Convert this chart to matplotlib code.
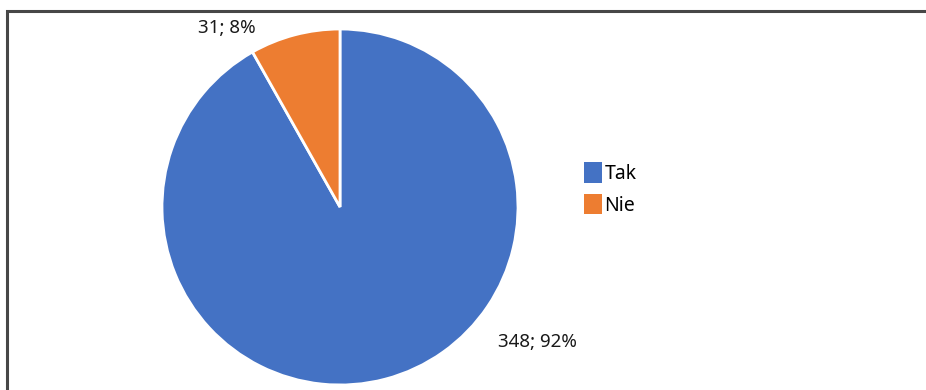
import matplotlib
matplotlib.use("Agg")
import matplotlib.pyplot as plt
from matplotlib.patches import Rectangle, Patch

categories = ["Tak", "Nie"]
counts = [348, 31]
colors = ["#4472C4", "#ED7D31"]

plt.rcParams["font.family"] = ["Noto Sans", "DejaVu Sans"]

W, H = 926, 390
fig = plt.figure(figsize=(W / 100, H / 100), dpi=100)

# frame around the chart area (open to the right and bottom)
fig.add_artist(Rectangle((6.5 / W, -0.1), 1.2, (H - 11) / H + 0.1,
                         transform=fig.transFigure, fill=False,
                         edgecolor="#474747", linewidth=2.2))

cx, cy, r = 340, 207, 178
ax = fig.add_axes([(cx - r) / W, (H - cy - r) / H, 2 * r / W, 2 * r / H])
wedges, _ = ax.pie(counts, colors=colors, startangle=90, counterclock=False,
                   wedgeprops=dict(edgecolor="white", linewidth=2))
ax.set_xlim(-1, 1)
ax.set_ylim(-1, 1)
ax.set_aspect("equal")
ax.axis("off")

total = sum(counts)
label_pos = [(1.107, -0.758), (-0.635, 1.006)]
for n, (x, y) in zip(counts, label_pos):
    ax.text(x, y, f"{n}; {round(100 * n / total)}%", ha="center", va="center",
            fontsize=13.5, color="#1a1a1a", clip_on=False)

handles = [Patch(facecolor=c, edgecolor="none") for c in colors]
fig.legend(handles, categories, loc="center left",
           bbox_to_anchor=(574 / W, (H - 189) / H), frameon=False,
           fontsize=14, handlelength=0.95, handleheight=1.25,
           handletextpad=0.12, labelspacing=0.5, borderpad=0)

fig.savefig("out.png", dpi=100)
